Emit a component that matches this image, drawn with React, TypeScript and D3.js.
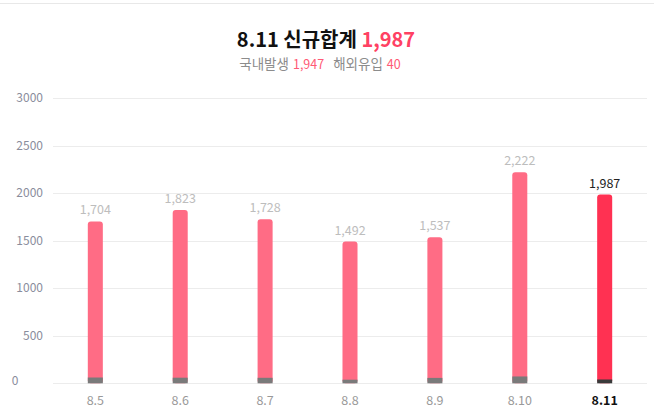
import React from "react";
import * as d3 from "d3";

const categories = ["8.5", "8.6", "8.7", "8.8", "8.9", "8.10", "8.11"];
const totals = [1704, 1823, 1728, 1492, 1537, 2222, 1987];
const overseas = [61, 59, 58, 38, 57, 72, 40];
const yTicks = [0, 500, 1000, 1500, 2000, 2500, 3000];
const titleDate = "8.11";
const titleLabel = "신규합계";
const domesticLabel = "국내발생";
const overseasLabel = "해외유입";
const todayTotal = 1987;
const todayDomestic = 1947;
const todayOverseas = 40;

const W = 654;
const H = 411;
const FONT = "'Noto Sans CJK KR', 'Noto Sans', sans-serif";

export default function App() {
  const x = d3.scaleBand<string>().domain(categories).range([53, 647]).paddingInner(0.823).paddingOuter(0.41);
  const y = d3.scaleLinear().domain([0, 3000]).range([383.3, 98.3]);
  const fmt = d3.format(",");
  const bw = x.bandwidth();
  const last = categories.length - 1;

  return (
    <svg
      width={W}
      height={H}
      style={{ position: "absolute", left: 0, top: 0, display: "block", fontFamily: FONT }}
    >
      <rect x={0} y={0} width={W} height={H} fill="#fff" />
      <line x1={0} x2={W} y1={3.5} y2={3.5} stroke="#e8e8e8" strokeWidth={1} />

      <text x={326} y={47} textAnchor="middle" fontSize={20} fontWeight={700} fill="#111">
        <tspan>{titleDate} {titleLabel} </tspan>
        <tspan fill="#ff4163">{fmt(todayTotal)}</tspan>
      </text>
      <text x={320} y={68.5} textAnchor="middle" fontSize={13.5} fill="#8c8c8c">
        <tspan>{domesticLabel}</tspan>
        <tspan dx={4} fill="#ff5a75" fontSize={12.5}>{fmt(todayDomestic)}</tspan>
        <tspan dx={9}>{overseasLabel}</tspan>
        <tspan dx={4} fill="#ff5a75" fontSize={12.5}>{todayOverseas}</tspan>
      </text>

      {yTicks.map((t) => (
        <g key={t}>
          <line x1={53} x2={647} y1={Math.round(y(t)) + 0.5} y2={Math.round(y(t)) + 0.5} stroke="#ececec" strokeWidth={1} />
          {t === 0 ? (
            <text x={15} y={y(t) + 2} textAnchor="middle" fontSize={12} fill="#8a8d9c">
              {t}
            </text>
          ) : (
            <text x={43} y={y(t) + 4} textAnchor="end" fontSize={12} fill="#8a8d9c">
              {t}
            </text>
          )}
        </g>
      ))}

      {categories.map((c, i) => {
        const x0 = x(c)!;
        const isLast = i === last;
        const top = y(totals[i]);
        const base = y(0);
        const grayTop = y(overseas[i]);
        return (
          <g key={c}>
            <rect x={x0} y={top} width={bw} height={base - top} rx={3} ry={3} fill={isLast ? "#ff3152" : "#ff6c85"} />
            <rect x={x0} y={grayTop} width={bw} height={base - grayTop} fill={isLast ? "#3a3a3a" : "#7a7a7a"} />
            <text
              x={x0 + bw / 2}
              y={top - 7}
              textAnchor="middle"
              fontSize={12.5}
              fill={isLast ? "#222" : "#bdbdbd"}
            >
              {fmt(totals[i])}
            </text>
            <text
              x={x0 + bw / 2}
              y={405}
              textAnchor="middle"
              fontSize={12.5}
              fontWeight={isLast ? 700 : 400}
              fill={isLast ? "#111" : "#999"}
            >
              {c}
            </text>
          </g>
        );
      })}
    </svg>
  );
}
